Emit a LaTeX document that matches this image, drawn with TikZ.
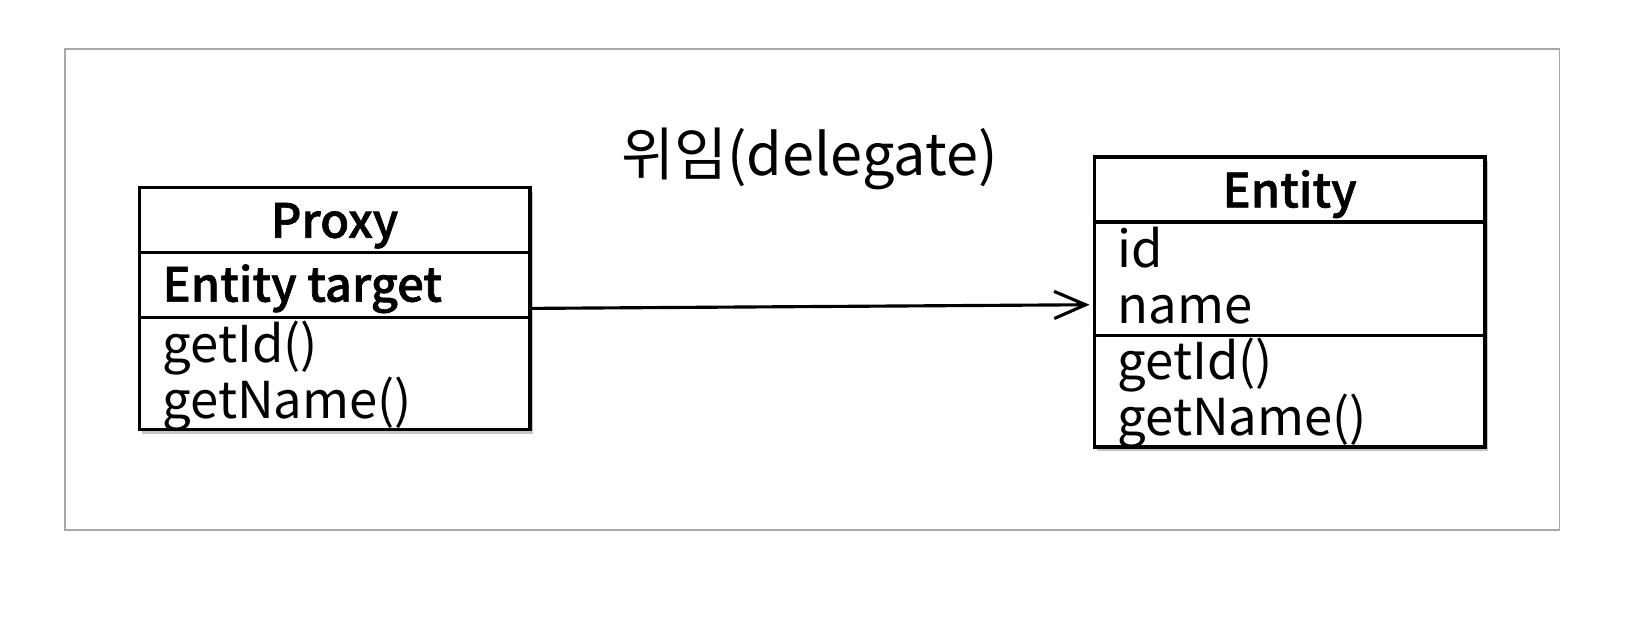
\documentclass[tikz,border=0pt]{standalone}
\usepackage{fontspec}
\setmainfont{Noto Sans CJK KR}[BoldFont={Noto Sans CJK KR Medium}, BoldFeatures={FakeBold=1.3}]
\usetikzlibrary{arrows.meta,shadows,calc}
\definecolor{framegray}{HTML}{A8A8A8}
\tikzset{
  umlbox/.style={draw=black, line width=3.2pt, fill=white, rectangle, inner sep=0pt,
    drop shadow={opacity=0.45, shadow xshift=3pt, shadow yshift=-4pt}},
  txt/.style={inner sep=0pt, font=\fontsize{48.5}{53}\selectfont},
  btxt/.style={inner sep=0pt, font=\fontsize{45}{53}\selectfont\bfseries},
  divider/.style={line width=3pt},
  delegate/.style={line width=3pt, -{Straight Barb[length=30pt,width=26pt,line width=3pt]}}
}
\begin{document}
\begin{tikzpicture}[x=1pt,y=-1pt]
\path[use as bounding box, fill=white] (0,0) rectangle (1568,594);
\node[draw=framegray, line width=1.5pt, minimum width=1427pt, minimum height=459pt, inner sep=0pt] (frame) at (775.5,276.5) {};
\node[inner sep=0pt, font=\fontsize{55}{60}\selectfont, anchor=base] (title) at (773,168) {위임(delegate)};
% Proxy
\node[umlbox, minimum width=373pt, minimum height=231pt] (pbox) at (319.5,294.5) {};
\draw[divider] (pbox.west |- 0,241) -- (pbox.east |- 0,241);
\draw[divider] (pbox.west |- 0,303) -- (pbox.east |- 0,303);
\node[btxt, anchor=base] (ptitle) at (319.5,227) {Proxy};
\node[btxt, anchor=base west] (pattr) at (155,288) {Entity target};
\node[txt, anchor=base west] (pm1) at (155,346) {getId()};
\node[txt, anchor=base west] (pm2) at (155,400) {getName()};
% Entity
\node[umlbox, minimum width=373pt, minimum height=277pt] (ebox) at (1231.5,288.5) {};
\draw[divider] (ebox.west |- 0,212) -- (ebox.east |- 0,212);
\draw[divider] (ebox.west |- 0,320) -- (ebox.east |- 0,320);
\node[btxt, anchor=base] (etitle) at (1231.5,198) {Entity};
\node[txt, anchor=base west] (ea1) at (1067,255) {id};
\node[txt, anchor=base west] (ea2) at (1067,309) {name};
\node[txt, anchor=base west] (em1) at (1067,362) {getId()};
\node[txt, anchor=base west] (em2) at (1067,416) {getName()};
% arrow
\draw[delegate] (pbox.east) -- ([yshift=-2.5pt,xshift=-3pt]ebox.west);
\end{tikzpicture}
\end{document}
